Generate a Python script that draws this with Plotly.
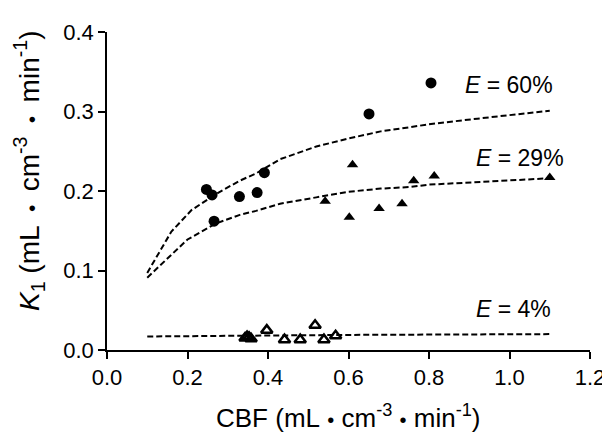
import plotly.graph_objects as go

# Measured data
circ_x = [0.247, 0.261, 0.266, 0.329, 0.373, 0.391, 0.651, 0.805]
circ_y = [0.202, 0.195, 0.162, 0.193, 0.198, 0.223, 0.297, 0.336]

tri_x = [0.542, 0.602, 0.610, 0.676, 0.733, 0.762, 0.813, 1.100]
tri_y = [0.187, 0.167, 0.233, 0.178, 0.184, 0.213, 0.219, 0.217]

open_x = [0.343, 0.348, 0.353, 0.358, 0.397, 0.441, 0.480, 0.517, 0.539, 0.568]
open_y = [0.015, 0.017, 0.016, 0.014, 0.025, 0.013, 0.013, 0.031, 0.013, 0.018]

fit60_x = [0.10, 0.16, 0.21, 0.27, 0.33, 0.37, 0.43, 0.52, 0.60, 0.68, 0.75, 0.80, 0.92, 1.10]
fit60_y = [0.097, 0.149, 0.176, 0.196, 0.213, 0.222, 0.240, 0.256, 0.266, 0.275, 0.280, 0.284, 0.291, 0.301]

fit29_x = [0.10, 0.20, 0.27, 0.33, 0.37, 0.43, 0.52, 0.60, 0.68, 0.75, 0.80, 1.10]
fit29_y = [0.091, 0.139, 0.159, 0.170, 0.175, 0.184, 0.192, 0.199, 0.203, 0.205, 0.208, 0.216]

fit4_x = [0.10, 0.30, 0.60, 1.10]
fit4_y = [0.017, 0.018, 0.019, 0.020]

x_ticks = [0.0, 0.2, 0.4, 0.6, 0.8, 1.0, 1.2]
y_ticks = [0.0, 0.1, 0.2, 0.3, 0.4]

labels = ["<i>E</i> = 60%", "<i>E</i> = 29%", "<i>E</i> = 4%"]
label_x = [0.884, 0.913, 0.913]
label_y = [0.333, 0.241, 0.052]

FONT = "Liberation Sans, Arial, sans-serif"
SP = "\u00a0"


def dot(px, pad):
    return pad + '<span style="font-size:%dpx">•</span>' % px + pad


fig = go.Figure()
dash = dict(color="black", width=2, dash="6px,3px")
for xs, ys in [(fit60_x, fit60_y), (fit29_x, fit29_y), (fit4_x, fit4_y)]:
    fig.add_trace(go.Scatter(x=xs, y=ys, mode="lines", line=dash, showlegend=False))

fig.add_trace(go.Scatter(x=circ_x, y=circ_y, mode="markers",
                         marker=dict(symbol="circle", size=11, color="black"), showlegend=False))
fig.add_trace(go.Scatter(x=tri_x, y=tri_y, mode="markers",
                         marker=dict(symbol="triangle-up", size=10, color="black"), showlegend=False))
fig.add_trace(go.Scatter(x=open_x, y=open_y, mode="markers",
                         marker=dict(symbol="triangle-up-open", size=10, color="black",
                                     line=dict(width=2.5, color="black")), showlegend=False))

for t, x, y in zip(labels, label_x, label_y):
    fig.add_annotation(x=x, y=y, xref="x", yref="y", text=t, showarrow=False,
                       xanchor="left", yanchor="middle",
                       font=dict(family=FONT, size=23, color="black"))

fig.add_annotation(x=0.5, y=-0.21, xref="paper", yref="paper", showarrow=False,
                   text="CBF (mL" + dot(20, SP) + "cm<sup>-3</sup>" + dot(20, SP) + "min<sup>-1</sup>)",
                   xanchor="center", yanchor="middle",
                   font=dict(family=FONT, size=26, color="black"))
fig.add_annotation(x=-0.16, y=0.565, xref="paper", yref="paper", showarrow=False,
                   text="<i>K</i><sub>1</sub> (mL" + dot(21, SP + "\u2009") + "cm<sup>-3</sup>"
                        + dot(21, SP + "\u2009") + "min<sup>-1</sup>)",
                   textangle=-90, xanchor="center", yanchor="middle",
                   font=dict(family=FONT, size=28, color="black"))

axis_common = dict(showgrid=False, zeroline=False, showline=True, linecolor="black",
                   linewidth=1.5, ticks="outside", ticklen=7, tickwidth=1.5,
                   tickcolor="black", tickformat=".1f",
                   tickfont=dict(family=FONT, size=22, color="black"))
fig.update_xaxes(range=[0, 1.2], tickvals=x_ticks, **axis_common)
fig.update_yaxes(range=[0, 0.4], tickvals=y_ticks, **axis_common)

fig.update_layout(width=610, height=442, plot_bgcolor="white", paper_bgcolor="white",
                  margin=dict(l=99, r=28, t=19, b=100), showlegend=False,
                  font=dict(family=FONT, color="black"))

fig.write_html("out.html")
